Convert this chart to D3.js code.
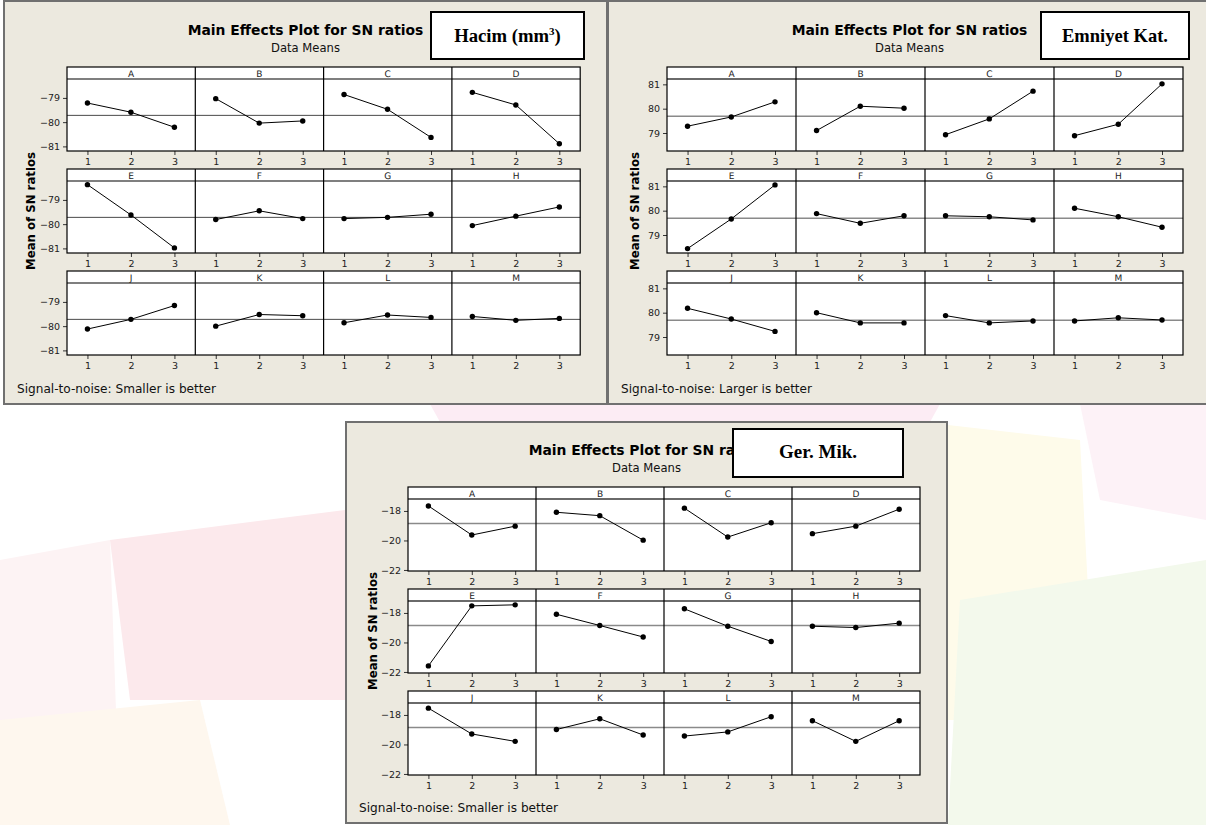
<!DOCTYPE html>
<html>
<head>
<meta charset="utf-8">
<script src="https://cdn.jsdelivr.net/npm/d3@7"></script>
<style>
  html, body { margin: 0; padding: 0; background: #ffffff; }
  svg { display: block; }
</style>
</head>
<body>
<svg id="chart" width="1206" height="825"></svg>
<script>
// ---------------- DATA ----------------
const factors = ["A", "B", "C", "D", "E", "F", "G", "H", "J", "K", "L", "M"];
const levels = [1, 2, 3];

// Hacim (mm3) — Signal-to-noise: Smaller is better
const hacimSN = [
  [-79.21, -79.59, -80.21], // A
  [-79.03, -80.04, -79.95], // B
  [-78.86, -79.47, -80.63], // C
  [-78.77, -79.29, -80.89], // D
  [-78.37, -79.62, -80.98], // E
  [-79.81, -79.45, -79.77], // F
  [-79.77, -79.72, -79.59], // G
  [-80.06, -79.67, -79.29], // H
  [-80.12, -79.72, -79.15], // J
  [-80.00, -79.52, -79.57], // K
  [-79.86, -79.54, -79.64], // L
  [-79.60, -79.76, -79.68]  // M
];
const hacimMean = -79.72;
const hacimTicks = [-81, -80, -79];

// Emniyet Kat. — Signal-to-noise: Larger is better
const emniyetSN = [
  [79.28, 79.66, 80.28], // A
  [79.10, 80.10, 80.02], // B
  [78.93, 79.58, 80.72], // C
  [78.89, 79.36, 81.02], // D
  [78.44, 79.66, 81.06], // E
  [79.88, 79.48, 79.79], // F
  [79.79, 79.75, 79.62], // G
  [80.10, 79.75, 79.32], // H
  [80.18, 79.74, 79.23], // J
  [80.00, 79.58, 79.58], // K
  [79.88, 79.58, 79.66], // L
  [79.66, 79.79, 79.70]  // M
];
const emniyetMean = 79.69;
const emniyetTicks = [79, 80, 81];

// Ger. Mik. — Signal-to-noise: Smaller is better
const gerMikSN = [
  [-17.66, -19.63, -19.03], // A
  [-18.09, -18.32, -19.98], // B
  [-17.81, -19.77, -18.80], // C
  [-19.54, -19.03, -17.88], // D
  [-21.59, -17.52, -17.45], // E
  [-18.09, -18.85, -19.63], // F
  [-17.72, -18.90, -19.93], // G
  [-18.90, -18.99, -18.69], // H
  [-17.54, -19.29, -19.79], // J
  [-18.99, -18.26, -19.36], // K
  [-19.43, -19.15, -18.12], // L
  [-18.39, -19.79, -18.39]  // M
];
const gerMikMean = -18.85;
const gerMikTicks = [-22, -20, -18];

const titleText = "Main Effects Plot for SN ratios";
const subtitleText = "Data Means";
const yLabelText = "Mean of SN ratios";

// ---------------- DRAW ----------------
const svg = d3.select("#chart");
const SANS = "'DejaVu Sans', Verdana, sans-serif";
const SERIF = "'Liberation Serif', 'Times New Roman', serif";

// faint watermark shapes in the background
const wm = svg.append("g").attr("class", "watermark");
const wmShapes = [
  { pts: [[0,560],[110,540],[120,825],[0,825]], fill: "#fdf3f4" },
  { pts: [[110,540],[345,510],[345,700],[130,700]], fill: "#fce9ec" },
  { pts: [[0,720],[200,700],[230,825],[0,825]], fill: "#fef7ee" },
  { pts: [[430,404],[940,404],[930,422],[440,422]], fill: "#fcecf4" },
  { pts: [[948,425],[1080,440],[1095,720],[948,720]], fill: "#fefbea" },
  { pts: [[960,600],[1206,560],[1206,825],[948,825]], fill: "#f3f9ec" },
  { pts: [[1080,404],[1206,404],[1206,520],[1100,500]], fill: "#fdf2f7" }
];
wm.selectAll("polygon").data(wmShapes).join("polygon")
  .attr("points", d => d.pts.map(p => p.join(",")).join(" "))
  .attr("fill", d => d.fill);

function fitWidth(sel, target) {
  const w = sel.node().getComputedTextLength();
  const fs = parseFloat(sel.attr("font-size"));
  sel.attr("font-size", (fs * target / w).toFixed(2));
}

function drawPanel(p) {
  const g = svg.append("g");
  // outer frame
  g.append("rect")
    .attr("x", p.x).attr("y", p.y).attr("width", p.w).attr("height", p.h)
    .attr("fill", "#ECE9DF").attr("stroke", "#707070").attr("stroke-width", 2);

  const cx = p.x + p.w / 2;
  const t = g.append("text").attr("x", cx).attr("y", p.y + p.titleDy)
    .attr("text-anchor", "middle").attr("font-family", SANS)
    .attr("font-weight", "bold").attr("font-size", 12).attr("fill", "#000")
    .text(titleText);
  fitWidth(t, 236);
  const st = g.append("text").attr("x", cx).attr("y", p.y + p.titleDy + 17)
    .attr("text-anchor", "middle").attr("font-family", SANS)
    .attr("font-size", 11).attr("fill", "#111")
    .text(subtitleText);
  fitWidth(st, 69);

  // grid geometry
  const colW = p.colW, stripH = 12, dataH = 72, rowPitch = 102;
  const gx = p.x + p.gridLeft, gy = p.y + p.gridTop;
  const gridW = colW * 4;

  for (let row = 0; row < 3; row++) {
    const ry = gy + row * rowPitch;
    const yScale = d3.scaleLinear().domain(p.domain).range([ry + stripH + dataH, ry + stripH]);

    g.append("rect").attr("x", gx).attr("y", ry).attr("width", gridW).attr("height", stripH + dataH)
      .attr("fill", "#ffffff");

    // mean reference line
    g.append("line").attr("x1", gx).attr("x2", gx + gridW)
      .attr("y1", yScale(p.mean)).attr("y2", yScale(p.mean))
      .attr("stroke", p.refColor).attr("stroke-width", p.refWidth);

    // strip bottom line
    g.append("line").attr("x1", gx).attr("x2", gx + gridW)
      .attr("y1", ry + stripH).attr("y2", ry + stripH)
      .attr("stroke", p.stripColor).attr("stroke-width", p.stripWidth);

    // y axis
    const yAxis = g.append("g").attr("transform", `translate(${gx},0)`)
      .call(d3.axisLeft(yScale).tickValues(p.ticks).tickSize(4).tickPadding(3).tickFormat(d3.format("d")));
    yAxis.select(".domain").remove();
    yAxis.selectAll("text").attr("font-family", SANS).attr("font-size", 9.5).attr("fill", "#222");
    yAxis.selectAll("line").attr("stroke", "#333");

    for (let col = 0; col < 4; col++) {
      const idx = row * 4 + col;
      const x0 = gx + col * colW;
      const xScale = d3.scaleLinear().domain([0.53, 3.48]).range([x0, x0 + colW]);

      g.append("text").attr("x", x0 + colW / 2).attr("y", ry + 9.5)
        .attr("text-anchor", "middle").attr("font-family", SANS).attr("font-size", 9)
        .attr("fill", "#222").style("text-rendering", "geometricPrecision").text(factors[idx]);

      const xAxis = g.append("g").attr("transform", `translate(0,${ry + stripH + dataH})`)
        .call(d3.axisBottom(xScale).tickValues(levels).tickSize(4).tickPadding(3).tickFormat(d3.format("d")));
      xAxis.select(".domain").remove();
      xAxis.selectAll("text").attr("font-family", SANS).attr("font-size", 9.5).attr("fill", "#222");
      xAxis.selectAll("line").attr("stroke", "#333");

      const pts = levels.map((lv, i) => ({ lv, v: p.values[idx][i] }));
      g.append("path").datum(pts)
        .attr("d", d3.line().x(d => xScale(d.lv)).y(d => yScale(d.v)))
        .attr("fill", "none").attr("stroke", "#000").attr("stroke-width", 1);
      g.selectAll(null).data(pts).join("circle")
        .attr("cx", d => xScale(d.lv)).attr("cy", d => yScale(d.v)).attr("r", 2.7)
        .attr("fill", "#000");

      if (col > 0) {
        g.append("line").attr("x1", x0).attr("x2", x0).attr("y1", ry).attr("y2", ry + stripH + dataH)
          .attr("stroke", "#000").attr("stroke-width", 1.2);
      }
    }
    g.append("rect").attr("x", gx).attr("y", ry).attr("width", gridW).attr("height", stripH + dataH)
      .attr("fill", "none").attr("stroke", "#000").attr("stroke-width", 1.2);
  }

  // y label
  const gridMid = gy + (2 * rowPitch + stripH + dataH) / 2;
  const yl = g.append("text")
    .attr("transform", `translate(${p.x + 31},${gridMid}) rotate(-90)`)
    .attr("text-anchor", "middle").attr("font-family", SANS).attr("font-weight", "bold")
    .attr("font-size", 12).attr("fill", "#000").text(yLabelText);
  fitWidth(yl, 118);

  // footer
  const ft = g.append("text").attr("x", p.x + 13).attr("y", p.y + p.h - 11)
    .attr("font-family", SANS).attr("font-size", 11).attr("fill", "#111")
    .text(p.footer);
  fitWidth(ft, p.footerW);

  // label box
  g.append("rect").attr("x", p.box[0]).attr("y", p.box[1]).attr("width", p.box[2]).attr("height", p.box[3])
    .attr("fill", "#ffffff").attr("stroke", "#000").attr("stroke-width", 2);
  const bt = g.append("text").attr("x", p.box[0] + p.box[2] / 2).attr("y", p.box[1] + p.boxTextDy)
    .attr("text-anchor", "middle").attr("font-family", SERIF).attr("font-weight", "bold")
    .attr("font-size", 18).attr("fill", "#000");
  p.boxText(bt);
  fitWidth(bt, p.boxTextW);
}

drawPanel({
  x: 4, y: 1, w: 603, h: 403,
  titleDy: 34, gridLeft: 63, gridTop: 66, colW: 128.3,
  domain: [-81.19, -78.22], ticks: hacimTicks, values: hacimSN, mean: hacimMean,
  refColor: "#4a4a4a", refWidth: 1, stripColor: "#000", stripWidth: 1.2,
  footer: "Signal-to-noise: Smaller is better", footerW: 199,
  box: [431, 12, 153, 47], boxTextDy: 30, boxTextW: 107,
  boxText: s => { s.append("tspan").text("Hacim (mm"); s.append("tspan").attr("font-size", 11).attr("dy", -7).text("3"); s.append("tspan").attr("dy", 7).text(")"); }
});

drawPanel({
  x: 608, y: 1, w: 603, h: 403,
  titleDy: 34, gridLeft: 59, gridTop: 66, colW: 129,
  domain: [78.26, 81.22], ticks: emniyetTicks, values: emniyetSN, mean: emniyetMean,
  refColor: "#8a8a8a", refWidth: 1.6, stripColor: "#6a6a6a", stripWidth: 1.8,
  footer: "Signal-to-noise: Larger is better", footerW: 191,
  box: [1041, 12, 148, 47], boxTextDy: 30, boxTextW: 106,
  boxText: s => s.text("Emniyet Kat.")
});

drawPanel({
  x: 346, y: 422, w: 601, h: 401,
  titleDy: 33, gridLeft: 62, gridTop: 65, colW: 128,
  domain: [-22.07, -17.19], ticks: gerMikTicks, values: gerMikSN, mean: gerMikMean,
  refColor: "#8a8a8a", refWidth: 1.6, stripColor: "#6a6a6a", stripWidth: 1.8,
  footer: "Signal-to-noise: Smaller is better", footerW: 199,
  box: [733, 429, 170, 48], boxTextDy: 29, boxTextW: 78,
  boxText: s => s.text("Ger. Mik.")
});
</script>
</body>
</html>
